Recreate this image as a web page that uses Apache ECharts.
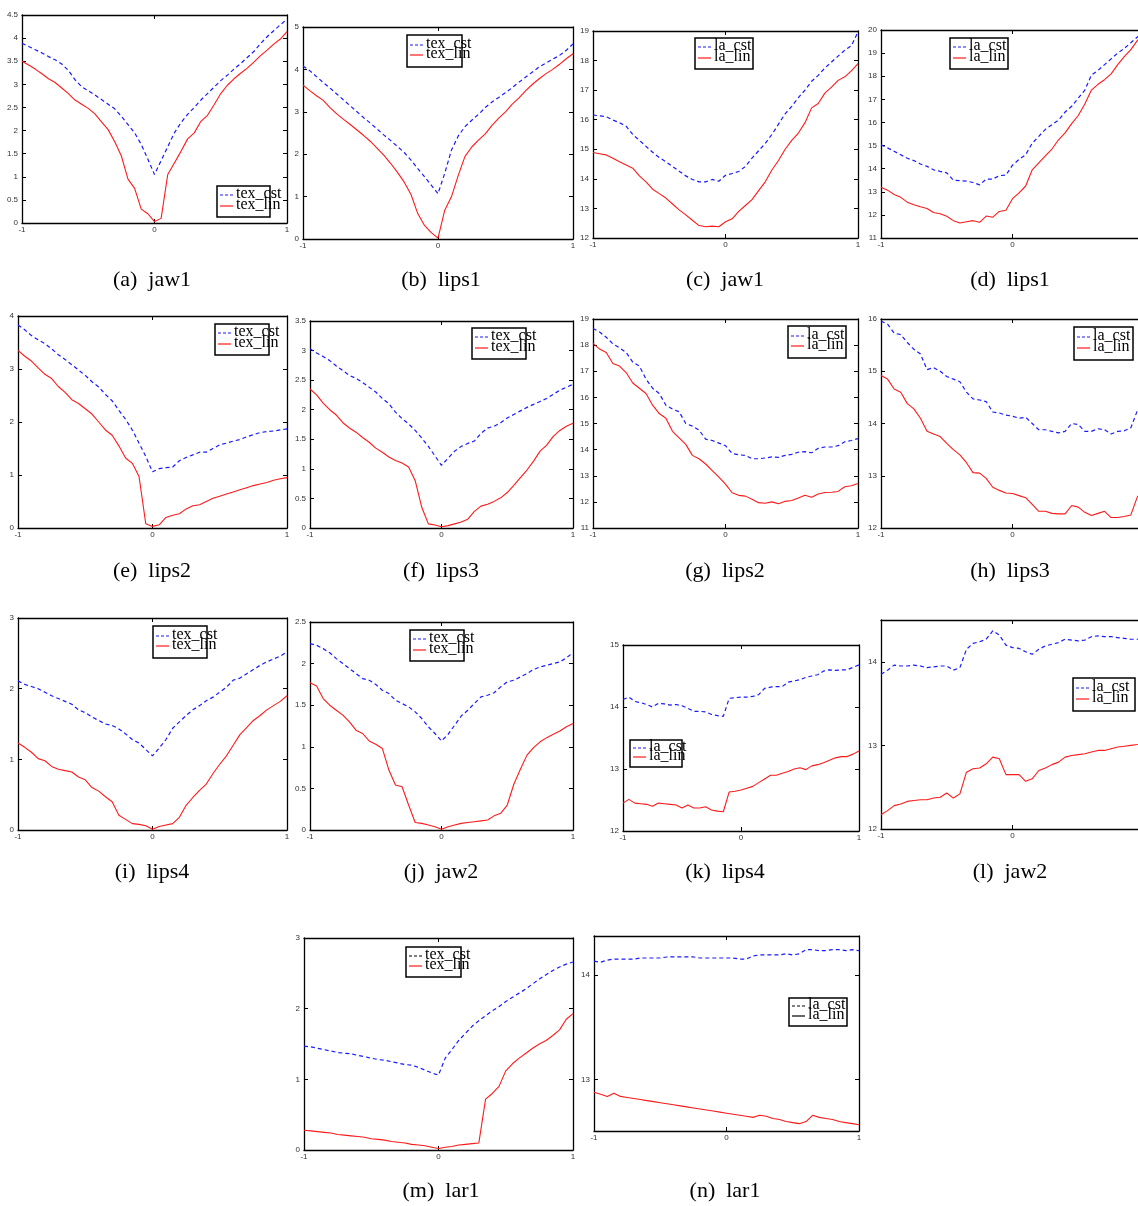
<!DOCTYPE html>
<html>
<head>
<meta charset="utf-8">
<script src="https://cdn.jsdelivr.net/npm/echarts@6.0.0/dist/echarts.min.js"></script>
<style>
  html, body { margin: 0; padding: 0; background: #fff; }
  #chart { width: 1138px; height: 1206px; }
</style>
</head>
<body>
<div id="chart"></div>
<script>
// Shared abscissa for every curve
const xs = [-1, -0.95, -0.9, -0.85, -0.8, -0.75, -0.7, -0.65, -0.6, -0.55, -0.5, -0.45, -0.4, -0.35, -0.3, -0.25, -0.2, -0.15, -0.1, -0.05,
  0, 0.05, 0.1, 0.15, 0.2, 0.25, 0.3, 0.35, 0.4, 0.45, 0.5, 0.55, 0.6, 0.65, 0.7, 0.75, 0.8, 0.85, 0.9, 0.95, 1];
const xTicks = [-1, 0, 1];

// (a) jaw1, texture error
const aCst = [3.89,3.82,3.75,3.68,3.6,3.53,3.44,3.3,3.1,2.95,2.86,2.77,2.67,2.57,2.47,2.31,2.13,1.95,1.7,1.38,1.05,1.35,1.65,1.95,2.17,2.35,2.5,2.66,2.8,2.94,3.08,3.2,3.33,3.45,3.58,3.71,3.88,4.03,4.16,4.29,4.41];
const aLin = [3.5,3.42,3.33,3.23,3.12,3.04,2.92,2.8,2.66,2.57,2.48,2.36,2.19,2.02,1.76,1.45,0.95,0.75,0.3,0.2,0.03,0.1,1.05,1.3,1.55,1.82,1.95,2.2,2.33,2.56,2.8,2.98,3.12,3.24,3.35,3.48,3.62,3.74,3.87,3.98,4.14];
// (b) lips1, texture error
const bCst = [4.08,3.97,3.83,3.69,3.56,3.42,3.28,3.14,3.0,2.86,2.73,2.59,2.45,2.32,2.18,2.04,1.86,1.66,1.47,1.27,1.07,1.55,2.1,2.43,2.65,2.8,2.94,3.1,3.23,3.34,3.45,3.57,3.7,3.82,3.94,4.06,4.15,4.24,4.33,4.45,4.6];
const bLin = [3.63,3.5,3.38,3.27,3.1,2.95,2.82,2.7,2.57,2.44,2.3,2.14,1.97,1.78,1.57,1.34,1.05,0.6,0.32,0.15,0.02,0.68,1.0,1.5,1.95,2.17,2.33,2.48,2.68,2.85,3.0,3.18,3.33,3.5,3.65,3.78,3.9,4.0,4.12,4.25,4.37];
// (c) jaw1, landmark error
const cCst = [16.16,16.13,16.1,15.99,15.9,15.78,15.5,15.3,15.1,14.9,14.72,14.58,14.42,14.26,14.1,13.98,13.9,13.9,13.98,13.92,14.12,14.18,14.25,14.42,14.7,14.95,15.2,15.5,15.85,16.2,16.45,16.75,17.0,17.3,17.5,17.75,17.95,18.15,18.35,18.5,18.97];
const cLin = [14.89,14.85,14.81,14.7,14.58,14.47,14.36,14.1,13.9,13.65,13.5,13.35,13.15,12.95,12.78,12.6,12.42,12.38,12.4,12.38,12.55,12.65,12.9,13.1,13.3,13.6,13.9,14.3,14.62,15.0,15.3,15.55,15.9,16.4,16.55,16.9,17.1,17.33,17.45,17.65,17.9];
// (d) lips1, landmark error
const dCst = [15.03,14.9,14.75,14.6,14.45,14.35,14.2,14.1,13.95,13.88,13.82,13.5,13.48,13.46,13.4,13.3,13.55,13.55,13.7,13.72,14.15,14.4,14.6,15.1,15.4,15.7,15.9,16.1,16.45,16.7,17.05,17.4,18.05,18.25,18.5,18.75,19.0,19.2,19.45,19.7,19.95];
const dLin = [13.2,13.07,12.88,12.76,12.55,12.44,12.35,12.28,12.1,12.05,11.94,11.75,11.65,11.7,11.75,11.68,11.95,11.9,12.15,12.2,12.7,12.95,13.25,13.95,14.25,14.55,14.85,15.25,15.55,15.95,16.3,16.8,17.4,17.65,17.85,18.1,18.5,18.85,19.15,19.55,19.8];
// (e) lips2, texture error
const eCst = [3.83,3.74,3.63,3.55,3.48,3.38,3.27,3.18,3.08,2.98,2.88,2.76,2.66,2.52,2.4,2.22,2.05,1.85,1.6,1.35,1.06,1.12,1.14,1.15,1.27,1.33,1.38,1.43,1.43,1.5,1.57,1.6,1.64,1.67,1.72,1.76,1.8,1.82,1.83,1.85,1.87];
const eLin = [3.35,3.24,3.15,3.02,2.9,2.82,2.67,2.56,2.42,2.35,2.25,2.15,2.0,1.85,1.75,1.55,1.32,1.22,0.97,0.08,0.03,0.06,0.2,0.24,0.27,0.36,0.42,0.44,0.5,0.56,0.6,0.64,0.68,0.72,0.76,0.8,0.83,0.86,0.9,0.93,0.95];
// (f) lips3, texture error
const fCst = [3.03,2.96,2.9,2.83,2.74,2.66,2.58,2.53,2.46,2.38,2.3,2.19,2.1,1.96,1.85,1.76,1.65,1.52,1.38,1.22,1.06,1.18,1.3,1.38,1.43,1.47,1.6,1.69,1.72,1.78,1.86,1.92,1.98,2.04,2.09,2.14,2.19,2.26,2.33,2.38,2.43];
const fLin = [2.35,2.25,2.11,2.0,1.91,1.78,1.69,1.62,1.53,1.45,1.35,1.28,1.2,1.14,1.1,1.03,0.8,0.35,0.07,0.05,0.02,0.04,0.07,0.1,0.15,0.28,0.37,0.4,0.45,0.51,0.6,0.72,0.85,0.98,1.13,1.3,1.4,1.55,1.65,1.72,1.77];
// (g) lips2, landmark error
const gCst = [18.64,18.5,18.3,18.05,17.9,17.72,17.35,17.2,16.7,16.35,16.15,15.7,15.55,15.45,15.0,14.9,14.75,14.4,14.35,14.25,14.15,13.85,13.8,13.78,13.65,13.65,13.68,13.72,13.7,13.78,13.82,13.9,13.92,13.88,14.05,14.1,14.1,14.15,14.3,14.35,14.42];
const gLin = [18.07,17.85,17.72,17.3,17.2,16.95,16.55,16.35,16.15,15.7,15.38,15.2,14.7,14.45,14.2,13.78,13.65,13.45,13.2,12.95,12.68,12.35,12.25,12.22,12.1,11.97,11.95,12.0,11.93,12.02,12.05,12.15,12.25,12.18,12.3,12.36,12.37,12.4,12.58,12.62,12.7];
// (h) lips3, landmark error
const hCst = [15.96,15.9,15.73,15.7,15.55,15.42,15.33,15.03,15.07,15.0,14.9,14.85,14.8,14.6,14.47,14.45,14.42,14.22,14.2,14.16,14.14,14.1,14.12,14.0,13.88,13.88,13.85,13.82,13.85,14.0,13.98,13.85,13.85,13.9,13.88,13.8,13.85,13.86,13.92,14.25,14.35];
const hLin = [14.92,14.85,14.66,14.6,14.38,14.28,14.1,13.85,13.8,13.75,13.62,13.5,13.4,13.25,13.06,13.05,12.95,12.78,12.72,12.67,12.66,12.62,12.58,12.45,12.32,12.32,12.28,12.27,12.27,12.43,12.4,12.3,12.24,12.28,12.32,12.2,12.2,12.22,12.25,12.6,12.7];
// (i) lips4, texture error
const iCst = [2.11,2.06,2.03,2.0,1.95,1.9,1.86,1.82,1.78,1.7,1.66,1.6,1.55,1.5,1.48,1.43,1.36,1.28,1.23,1.14,1.05,1.16,1.28,1.44,1.53,1.62,1.7,1.76,1.83,1.88,1.95,2.02,2.12,2.15,2.21,2.27,2.33,2.38,2.42,2.46,2.52];
const iLin = [1.23,1.17,1.1,1.01,0.98,0.9,0.86,0.84,0.82,0.75,0.71,0.6,0.55,0.47,0.4,0.21,0.15,0.09,0.08,0.06,0.01,0.05,0.07,0.09,0.18,0.35,0.46,0.56,0.65,0.8,0.93,1.05,1.2,1.35,1.45,1.55,1.62,1.7,1.76,1.82,1.9];
// (j) jaw2, texture error
const jCst = [2.24,2.22,2.18,2.13,2.06,2.0,1.94,1.88,1.82,1.8,1.75,1.68,1.64,1.56,1.52,1.48,1.42,1.34,1.24,1.16,1.07,1.15,1.26,1.37,1.44,1.52,1.6,1.62,1.65,1.72,1.78,1.8,1.84,1.88,1.93,1.96,1.98,2.0,2.02,2.07,2.13];
const jLin = [1.77,1.73,1.58,1.5,1.44,1.38,1.3,1.2,1.16,1.07,1.03,0.98,0.72,0.54,0.52,0.3,0.09,0.08,0.06,0.04,0.01,0.04,0.06,0.08,0.09,0.1,0.11,0.12,0.17,0.2,0.3,0.55,0.73,0.9,0.99,1.06,1.11,1.15,1.19,1.24,1.28];
// (k) lips4, landmark error
const kCst = [14.12,14.16,14.09,14.07,14.04,14.0,14.06,14.05,14.03,14.04,14.02,13.98,13.93,13.93,13.92,13.88,13.86,13.85,14.14,14.15,14.16,14.16,14.17,14.2,14.3,14.32,14.33,14.33,14.4,14.42,14.44,14.48,14.5,14.52,14.58,14.6,14.59,14.6,14.6,14.64,14.68];
const kLin = [12.45,12.51,12.45,12.44,12.43,12.4,12.45,12.44,12.43,12.42,12.37,12.42,12.37,12.37,12.39,12.34,12.32,12.31,12.63,12.64,12.66,12.69,12.72,12.78,12.84,12.9,12.9,12.93,12.96,13.0,13.02,12.99,13.05,13.07,13.1,13.14,13.18,13.2,13.2,13.24,13.29];
// (l) jaw2, landmark error
const lCst = [13.85,13.9,13.96,13.95,13.95,13.96,13.95,13.93,13.94,13.95,13.95,13.9,13.93,14.15,14.22,14.24,14.27,14.37,14.32,14.2,14.17,14.16,14.12,14.09,14.15,14.19,14.21,14.23,14.27,14.26,14.25,14.26,14.3,14.31,14.3,14.3,14.29,14.28,14.27,14.27,14.28];
const lLin = [12.17,12.22,12.28,12.3,12.33,12.34,12.35,12.35,12.37,12.38,12.43,12.37,12.42,12.68,12.72,12.73,12.78,12.86,12.84,12.65,12.65,12.65,12.57,12.6,12.7,12.73,12.77,12.8,12.86,12.88,12.89,12.9,12.92,12.94,12.94,12.96,12.98,12.99,13.0,13.01,13.03];
// (m) lar1, texture error
const mCst = [1.47,1.46,1.44,1.42,1.4,1.38,1.37,1.36,1.34,1.32,1.3,1.28,1.27,1.25,1.23,1.21,1.2,1.17,1.13,1.09,1.06,1.3,1.42,1.55,1.65,1.75,1.83,1.9,1.97,2.03,2.1,2.16,2.22,2.28,2.35,2.42,2.48,2.54,2.59,2.63,2.66];
const mLin = [0.28,0.27,0.26,0.25,0.24,0.22,0.21,0.2,0.19,0.18,0.16,0.15,0.14,0.12,0.11,0.1,0.08,0.07,0.06,0.04,0.02,0.04,0.05,0.07,0.08,0.09,0.1,0.72,0.8,0.9,1.12,1.22,1.3,1.37,1.44,1.5,1.55,1.62,1.7,1.85,1.93];
// (n) lar1, landmark error
const nCst = [14.13,14.12,14.14,14.15,14.15,14.15,14.15,14.16,14.16,14.16,14.16,14.17,14.17,14.17,14.17,14.17,14.16,14.16,14.16,14.16,14.16,14.16,14.15,14.15,14.18,14.19,14.19,14.19,14.19,14.2,14.19,14.2,14.24,14.24,14.23,14.23,14.24,14.24,14.23,14.24,14.23];
const nLin = [12.88,12.86,12.84,12.87,12.84,12.83,12.82,12.81,12.8,12.79,12.78,12.77,12.76,12.75,12.74,12.73,12.72,12.71,12.7,12.69,12.68,12.67,12.66,12.65,12.64,12.66,12.65,12.63,12.62,12.6,12.59,12.58,12.6,12.66,12.64,12.63,12.62,12.6,12.59,12.58,12.57];

// y tick values
const yTicksA = [0, 0.5, 1, 1.5, 2, 2.5, 3, 3.5, 4, 4.5];
const yTicksB = [0, 1, 2, 3, 4, 5];
const yTicksC = [12, 13, 14, 15, 16, 17, 18, 19];
const yTicksD = [11, 12, 13, 14, 15, 16, 17, 18, 19, 20];
const yTicksE = [0, 1, 2, 3, 4];
const yTicksF = [0, 0.5, 1, 1.5, 2, 2.5, 3, 3.5];
const yTicksG = [11, 12, 13, 14, 15, 16, 17, 18, 19];
const yTicksH = [12, 13, 14, 15, 16];
const yTicksI = [0, 1, 2, 3];
const yTicksJ = [0, 0.5, 1, 1.5, 2, 2.5];
const yTicksK = [12, 13, 14, 15];
const yTicksL = [12, 13, 14];
const yTicksM = [0, 1, 2, 3];
const yTicksN = [13, 14];

const TEX = ['tex_cst', 'tex_lin'];
const LA = ['la_cst', 'la_lin'];
const BLUE = '#1a1aff', RED = '#ff1a1a', BLACK = '#000';

// Layout of each subplot: plot rectangle [left, top, width, height], caption, legend box
const panels = [
  { cst: aCst, lin: aLin, yMin: 0, yMax: 4.5, yTicks: yTicksA, rect: [22, 15, 265, 208], cap: '(a)  jaw1', capPos: [152, 280], names: TEX, leg: [217, 186, 53, 31] },
  { cst: bCst, lin: bLin, yMin: 0, yMax: 5, yTicks: yTicksB, rect: [303, 27, 270, 212], cap: '(b)  lips1', capPos: [441, 280], names: TEX, leg: [407, 35, 55, 32] },
  { cst: cCst, lin: cLin, yMin: 12, yMax: 19, yTicks: yTicksC, rect: [593, 31, 265, 207], cap: '(c)  jaw1', capPos: [725, 280], names: LA, leg: [695, 38, 58, 31] },
  { cst: dCst, lin: dLin, yMin: 11, yMax: 20, yTicks: yTicksD, rect: [881, 30, 263, 208], cap: '(d)  lips1', capPos: [1010, 280], names: LA, leg: [950, 38, 58, 31] },
  { cst: eCst, lin: eLin, yMin: 0, yMax: 4, yTicks: yTicksE, rect: [18, 316, 269, 212], cap: '(e)  lips2', capPos: [152, 571], names: TEX, leg: [215, 324, 54, 31] },
  { cst: fCst, lin: fLin, yMin: 0, yMax: 3.5, yTicks: yTicksF, rect: [310, 321, 263, 207], cap: '(f)  lips3', capPos: [441, 571], names: TEX, leg: [472, 328, 54, 31] },
  { cst: gCst, lin: gLin, yMin: 11, yMax: 19, yTicks: yTicksG, rect: [593, 319, 265, 209], cap: '(g)  lips2', capPos: [725, 571], names: LA, leg: [788, 326, 58, 32] },
  { cst: hCst, lin: hLin, yMin: 12, yMax: 16, yTicks: yTicksH, rect: [881, 319, 263, 209], cap: '(h)  lips3', capPos: [1010, 571], names: LA, leg: [1074, 327, 59, 33] },
  { cst: iCst, lin: iLin, yMin: 0, yMax: 3, yTicks: yTicksI, rect: [18, 618, 269, 212], cap: '(i)  lips4', capPos: [152, 872], names: TEX, leg: [153, 626, 54, 32] },
  { cst: jCst, lin: jLin, yMin: 0, yMax: 2.5, yTicks: yTicksJ, rect: [310, 622, 263, 208], cap: '(j)  jaw2', capPos: [441, 872], names: TEX, leg: [410, 630, 54, 31] },
  { cst: kCst, lin: kLin, yMin: 12, yMax: 15, yTicks: yTicksK, rect: [623, 645, 236, 186], cap: '(k)  lips4', capPos: [725, 872], names: LA, leg: [630, 740, 52, 27] },
  { cst: lCst, lin: lLin, yMin: 12, yMax: 14.5, yTicks: yTicksL, rect: [881, 620, 263, 209], cap: '(l)  jaw2', capPos: [1010, 872], names: LA, leg: [1073, 678, 62, 33] },
  { cst: mCst, lin: mLin, yMin: 0, yMax: 3, yTicks: yTicksM, rect: [304, 938, 269, 212], cap: '(m)  lar1', capPos: [441, 1191], names: TEX, leg: [406, 947, 55, 30], legColors: [BLACK, RED] },
  { cst: nCst, lin: nLin, yMin: 12.51, yMax: 14.37, yTicks: yTicksN, rect: [594, 936, 265, 195], cap: '(n)  lar1', capPos: [725, 1191], names: LA, leg: [789, 998, 58, 28], legColors: [BLACK, BLACK] }
];

const axisLine = { show: true, onZero: false, lineStyle: { color: '#000', width: 1.3 } };
const labelStyle = { fontFamily: 'Liberation Sans', fontSize: 8, color: '#333' };

const grids = [], xAxes = [], yAxes = [], series = [], graphics = [];

panels.forEach((p, i) => {
  const [l, t, w, h] = p.rect;
  grids.push({ left: l, top: t, width: w, height: h, outerBoundsMode: 'none', containLabel: false });

  // bottom and top x axes
  xAxes.push({
    type: 'value', gridIndex: i, position: 'bottom', min: -1, max: 1,
    axisLine, splitLine: { show: false },
    axisTick: { inside: true, length: 4, lineStyle: { color: '#000' }, customValues: xTicks },
    axisLabel: Object.assign({ margin: 3, customValues: xTicks }, labelStyle)
  });
  xAxes.push({
    type: 'value', gridIndex: i, position: 'top', min: -1, max: 1,
    axisLine, splitLine: { show: false },
    axisTick: { inside: true, length: 4, lineStyle: { color: '#000' }, customValues: xTicks },
    axisLabel: { show: false }
  });
  // left and right y axes
  yAxes.push({
    type: 'value', gridIndex: i, position: 'left', min: p.yMin, max: p.yMax,
    axisLine, splitLine: { show: false },
    axisTick: { inside: true, length: 4, lineStyle: { color: '#000' }, customValues: p.yTicks },
    axisLabel: Object.assign({ margin: 4, customValues: p.yTicks }, labelStyle)
  });
  yAxes.push({
    type: 'value', gridIndex: i, position: 'right', min: p.yMin, max: p.yMax,
    axisLine, splitLine: { show: false },
    axisTick: { inside: true, length: 4, lineStyle: { color: '#000' }, customValues: p.yTicks },
    axisLabel: { show: false }
  });

  series.push({
    type: 'line', name: p.names[0], xAxisIndex: 2 * i, yAxisIndex: 2 * i,
    data: xs.map((x, k) => [x, p.cst[k]]),
    showSymbol: false, symbol: 'none', clip: true,
    lineStyle: { color: BLUE, width: 1.2, type: [4, 3] }
  });
  series.push({
    type: 'line', name: p.names[1], xAxisIndex: 2 * i, yAxisIndex: 2 * i,
    data: xs.map((x, k) => [x, p.lin[k]]),
    showSymbol: false, symbol: 'none', clip: true,
    lineStyle: { color: RED, width: 1.1 }
  });

  // legend box
  const [bx, by, bw, bh] = p.leg;
  const cols = p.legColors || [BLUE, RED];
  const r1 = Math.round(bh * 0.3), r2 = Math.round(bh * 0.63);
  graphics.push({
    type: 'group', x: bx, y: by, z: 100,
    children: [
      { type: 'rect', shape: { x: 0, y: 0, width: bw, height: bh }, style: { fill: '#fff', stroke: '#000', lineWidth: 1.5 } },
      { type: 'line', shape: { x1: 3, y1: r1, x2: 16, y2: r1 }, style: { stroke: cols[0], lineWidth: 1.2, lineDash: [3, 2] } },
      { type: 'line', shape: { x1: 3, y1: r2, x2: 16, y2: r2 }, style: { stroke: cols[1], lineWidth: 1.2 } },
      { type: 'text', x: 19, y: r1 - 1.5, style: { text: p.names[0], fontFamily: 'Liberation Serif', fontSize: 16, fill: '#000', verticalAlign: 'middle' } },
      { type: 'text', x: 19, y: r2 - 1.5, style: { text: p.names[1], fontFamily: 'Liberation Serif', fontSize: 16, fill: '#000', verticalAlign: 'middle' } }
    ]
  });

  // caption under the subplot
  graphics.push({
    type: 'text', x: p.capPos[0], y: p.capPos[1], z: 100,
    style: { text: p.cap, fontFamily: 'Liberation Serif', fontSize: 22, fill: '#000', align: 'center', verticalAlign: 'middle' }
  });
});

const chart = echarts.init(document.getElementById('chart'), null, { renderer: 'canvas' });
chart.setOption({
  animation: false,
  backgroundColor: '#fff',
  grid: grids,
  xAxis: xAxes,
  yAxis: yAxes,
  series: series,
  graphic: graphics
});
</script>
</body>
</html>
